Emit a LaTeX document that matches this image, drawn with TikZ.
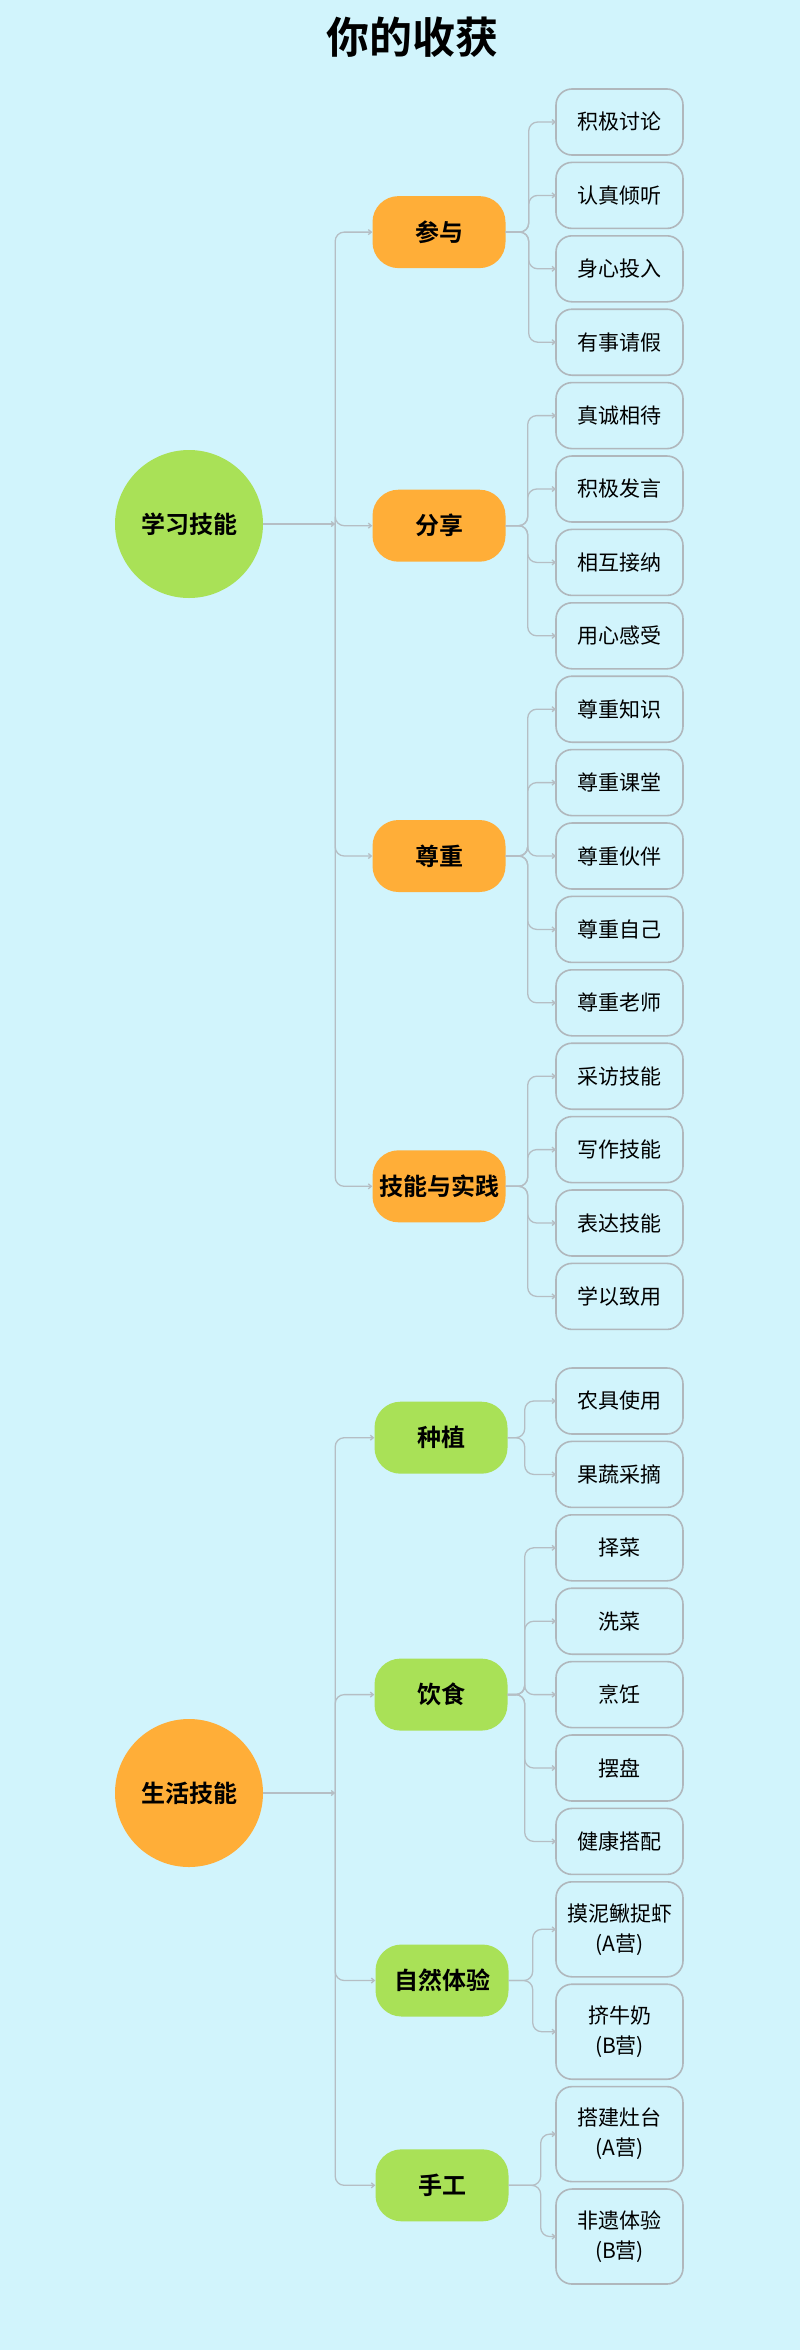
\documentclass[tikz,border=0pt]{standalone}
\usepackage{fontspec}
\setmainfont{Noto Sans CJK SC}[BoldFont={Noto Sans CJK SC Bold}]
\usepackage{tikz}
\usetikzlibrary{positioning,arrows.meta,calc}
\definecolor{sky}      {HTML}{D1F4FC}
\definecolor{tangerine}{HTML}{FFAE38}
\definecolor{sprout}   {HTML}{A9E157}
\definecolor{wire}     {HTML}{B5BEC4}
\definecolor{rim}      {HTML}{B0B7BC}
\tikzset{
  >={Straight Barb[length=3pt,width=5pt]},
  % --- nodes
  leaf/.style     = {rounded corners=16pt, draw=rim, line width=1.6pt, align=center,
                     minimum width=127pt, minimum height=66pt, inner sep=2pt, outer sep=0pt,
                     font=\fontsize{21}{30}\selectfont},
  leaftall/.style = {leaf, minimum height=95pt},
  hub/.style      = {rounded corners=26pt, minimum width=133pt, minimum height=72pt,
                     inner sep=3pt, font=\fontsize{24}{28}\selectfont\bfseries},
  hubo/.style     = {hub, fill=tangerine},
  hubg/.style     = {hub, fill=sprout},
  topic/.style    = {circle, minimum size=148pt, inner sep=0pt,
                     font=\fontsize{24}{28}\selectfont\bfseries},
  % --- edges
  e/.style        = {->, draw=wire, line width=1.3pt, rounded corners=9pt},
}

\begin{document}
\begin{tikzpicture}[x=1pt, y=-1pt, node distance=7.4pt]
  \fill[sky] (0,0) rectangle (800,2350);
  \useasboundingbox (0,0) rectangle (800,2350);
  \node[font=\fontsize{43}{48}\selectfont\bfseries] (title) at (412,37) {你的收获};

  % --- leaves, first tree
  \node[leaf] (cy1) at (619.5,122) {积极讨论};
  \node[leaf, below=of cy1] (cy2) {认真倾听};
  \node[leaf, below=of cy2] (cy3) {身心投入};
  \node[leaf, below=of cy3] (cy4) {有事请假};
  \node[leaf, below=of cy4] (fx1) {真诚相待};
  \node[leaf, below=of fx1] (fx2) {积极发言};
  \node[leaf, below=of fx2] (fx3) {相互接纳};
  \node[leaf, below=of fx3] (fx4) {用心感受};
  \node[leaf, below=of fx4] (zz1) {尊重知识};
  \node[leaf, below=of zz1] (zz2) {尊重课堂};
  \node[leaf, below=of zz2] (zz3) {尊重伙伴};
  \node[leaf, below=of zz3] (zz4) {尊重自己};
  \node[leaf, below=of zz4] (zz5) {尊重老师};
  \node[leaf, below=of zz5] (sj1) {采访技能};
  \node[leaf, below=of sj1] (sj2) {写作技能};
  \node[leaf, below=of sj2] (sj3) {表达技能};
  \node[leaf, below=of sj3] (sj4) {学以致用};

  % --- leaves, second tree
  \node[leaf] (zw1) at (619.5,1401) {农具使用};
  \node[leaf, below=of zw1] (zw2) {果蔬采摘};
  \node[leaf, below=of zw2] (ys1) {择菜};
  \node[leaf, below=of ys1] (ys2) {洗菜};
  \node[leaf, below=of ys2] (ys3) {烹饪};
  \node[leaf, below=of ys3] (ys4) {摆盘};
  \node[leaf, below=of ys4] (ys5) {健康搭配};
  \node[leaftall, below=of ys5] (zr1) {摸泥鳅捉虾\\(A营)};
  \node[leaftall, below=of zr1] (zr2) {挤牛奶\\(B营)};
  \node[leaftall, below=of zr2] (sg1) {搭建灶台\\(A营)};
  \node[leaftall, below=of sg1] (sg2) {非遗体验\\(B营)};

  % --- middle level
  \node[hubo] (canyu)    at ($(cy1)!.5!(cy4) + (-180.5,0)$) {参与};
  \node[hubo] (fenxiang) at ($(fx1)!.5!(fx4) + (-180.5,0)$) {分享};
  \node[hubo] (zunzhong) at ($(zz1)!.5!(zz5) + (-180.5,0)$) {尊重};
  \node[hubo] (shijian)  at ($(sj1)!.5!(sj4) + (-180.5,0)$) {技能与实践};
  \node[hubg] (zhongzhi) at ($(zw1)!.5!(zw2) + (-178.5,0)$) {种植};
  \node[hubg] (yinshi)   at ($(ys1)!.5!(ys5) + (-178.5,0)$) {饮食};
  \node[hubg] (ziran)    at ($(zr1)!.5!(zr2) + (-177.5,0)$) {自然体验};
  \node[hubg] (shougong) at ($(sg1)!.5!(sg2) + (-177.5,0)$) {手工};

  % --- topics
  \node[topic, fill=sprout]    (xuexi)    at (189,524)  {学习技能};
  \node[topic, fill=tangerine] (shenghuo) at (189,1793) {生活技能};

  \coordinate (j1) at ([xshift=72pt]xuexi.east);
  \coordinate (j2) at ([xshift=72pt]shenghuo.east);
  \draw[e] (xuexi) -- (j1);
  \draw[e] (shenghuo) -- (j2);
  \foreach \m in {canyu,fenxiang,zunzhong,shijian} \draw[e] (j1) |- (\m.west);
  \foreach \m in {zhongzhi,yinshi,ziran,shougong} \draw[e] (j2) |- (\m.west);

  \foreach \m/\o/\ls in {canyu/23/{cy1,cy2,cy3,cy4}, fenxiang/22/{fx1,fx2,fx3,fx4},
      zunzhong/22/{zz1,zz2,zz3,zz4,zz5}, shijian/22/{sj1,sj2,sj3,sj4},
      zhongzhi/17/{zw1,zw2}, yinshi/17/{ys1,ys2,ys3,ys4,ys5},
      ziran/24/{zr1,zr2}, shougong/32/{sg1,sg2}}
    \foreach \l in \ls \draw[e] (\m.east) -- ++(\o,0) |- (\l.west);
\end{tikzpicture}
\end{document}
